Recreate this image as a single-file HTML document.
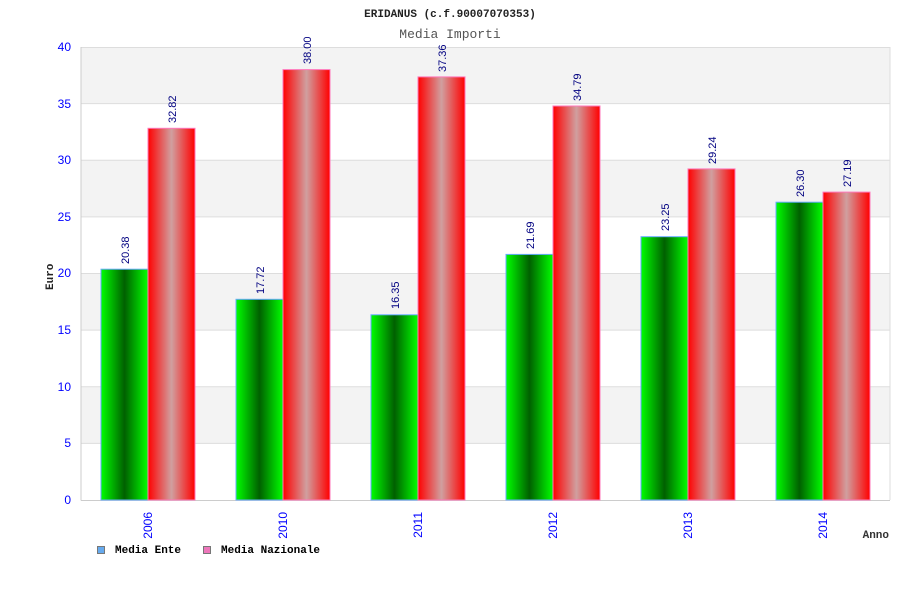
<!DOCTYPE html>
<html><head><meta charset="utf-8"><style>body{margin:0;background:#fff}svg{display:block}</style></head><body>
<svg width="900" height="600" xmlns="http://www.w3.org/2000/svg" font-family="Liberation Sans, sans-serif">
<defs>
<linearGradient id="g" x1="0" x2="1" y1="0" y2="0"><stop offset="0" stop-color="#00ff00"/><stop offset="0.5" stop-color="#006000"/><stop offset="1" stop-color="#00ff00"/></linearGradient>
<linearGradient id="r" x1="0" x2="1" y1="0" y2="0"><stop offset="0" stop-color="#ff0000"/><stop offset="0.5" stop-color="#d0a0a0"/><stop offset="1" stop-color="#ff0000"/></linearGradient>
</defs>
<rect x="81" y="47" width="809" height="453" fill="#fff"/>
<g fill="#f3f3f3"><rect x="81" y="47" width="809" height="56.6"/><rect x="81" y="160.25" width="809" height="56.6"/><rect x="81" y="273.5" width="809" height="56.6"/><rect x="81" y="386.75" width="809" height="56.6"/></g>
<g stroke="#dddddd" stroke-width="1"><line x1="81" x2="890" y1="47.5" y2="47.5"/><line x1="81" x2="890" y1="103.6" y2="103.6"/><line x1="81" x2="890" y1="160.25" y2="160.25"/><line x1="81" x2="890" y1="216.9" y2="216.9"/><line x1="81" x2="890" y1="273.5" y2="273.5"/><line x1="81" x2="890" y1="330.1" y2="330.1"/><line x1="81" x2="890" y1="386.75" y2="386.75"/><line x1="81" x2="890" y1="443.4" y2="443.4"/><line x1="890" x2="890" y1="47" y2="500"/></g>
<g stroke="#cccccc"><line x1="81" x2="81" y1="47" y2="500.5"/><line x1="81" x2="890" y1="500.5" y2="500.5"/></g>
<g fill="url(#g)" stroke="#66aaff" stroke-width="1">
<rect x="101" y="269.2" width="47" height="230.8"/><rect x="236" y="299.3" width="47" height="200.7"/><rect x="371" y="314.8" width="47" height="185.2"/><rect x="506" y="254.4" width="47" height="245.6"/><rect x="641" y="236.7" width="47" height="263.3"/><rect x="776" y="202.2" width="47" height="297.8"/></g>
<g fill="url(#r)" stroke="#ff77bb" stroke-width="1">
<rect x="148" y="128.3" width="47" height="371.7"/><rect x="283" y="69.6" width="47" height="430.4"/><rect x="418" y="76.9" width="47" height="423.1"/><rect x="553" y="106" width="47" height="394"/><rect x="688" y="168.9" width="47" height="331.1"/><rect x="823" y="192.1" width="47" height="307.9"/></g>
<g fill="#000080" font-size="11">
<text transform="translate(129,264) rotate(-90)">20.38</text>
<text transform="translate(264,294) rotate(-90)">17.72</text>
<text transform="translate(399,309) rotate(-90)">16.35</text>
<text transform="translate(534,249) rotate(-90)">21.69</text>
<text transform="translate(669,231) rotate(-90)">23.25</text>
<text transform="translate(804,197) rotate(-90)">26.30</text>
<text transform="translate(176,123) rotate(-90)">32.82</text>
<text transform="translate(311,64) rotate(-90)">38.00</text>
<text transform="translate(446,72) rotate(-90)">37.36</text>
<text transform="translate(581,101) rotate(-90)">34.79</text>
<text transform="translate(716,164) rotate(-90)">29.24</text>
<text transform="translate(851,187) rotate(-90)">27.19</text>
</g>
<g fill="#0000ff" font-size="12" text-anchor="end">
<text x="71" y="504">0</text><text x="71" y="447">5</text><text x="71" y="391">10</text><text x="71" y="334">15</text><text x="71" y="277">20</text><text x="71" y="221">25</text><text x="71" y="164">30</text><text x="71" y="108">35</text><text x="71" y="51">40</text>
</g>
<g fill="#0000ff" font-size="12" text-anchor="end">
<text transform="translate(152,512) rotate(-90)">2006</text>
<text transform="translate(287,512) rotate(-90)">2010</text>
<text transform="translate(422,512) rotate(-90)">2011</text>
<text transform="translate(557,512) rotate(-90)">2012</text>
<text transform="translate(692,512) rotate(-90)">2013</text>
<text transform="translate(827,512) rotate(-90)">2014</text>
</g>
<text x="450" y="17" text-anchor="middle" font-family="Liberation Mono, monospace" font-weight="bold" font-size="11" fill="#222">ERIDANUS (c.f.90007070353)</text>
<text x="450" y="38" text-anchor="middle" font-family="Liberation Mono, monospace" font-size="13" fill="#555">Media Importi</text>
<text transform="translate(53,290) rotate(-90)" font-family="Liberation Mono, monospace" font-weight="bold" font-size="11" fill="#222">Euro</text>
<text x="889" y="538" text-anchor="end" font-family="Liberation Mono, monospace" font-weight="bold" font-size="11" fill="#333">Anno</text>
<rect x="97.5" y="546.5" width="7" height="7" fill="#66aaee" stroke="#777"/>
<text x="115" y="553" font-family="Liberation Mono, monospace" font-weight="bold" font-size="11" fill="#000">Media Ente</text>
<rect x="203.5" y="546.5" width="7" height="7" fill="#ee77bb" stroke="#777"/>
<text x="221" y="553" font-family="Liberation Mono, monospace" font-weight="bold" font-size="11" fill="#000">Media Nazionale</text>
</svg>
</body></html>
